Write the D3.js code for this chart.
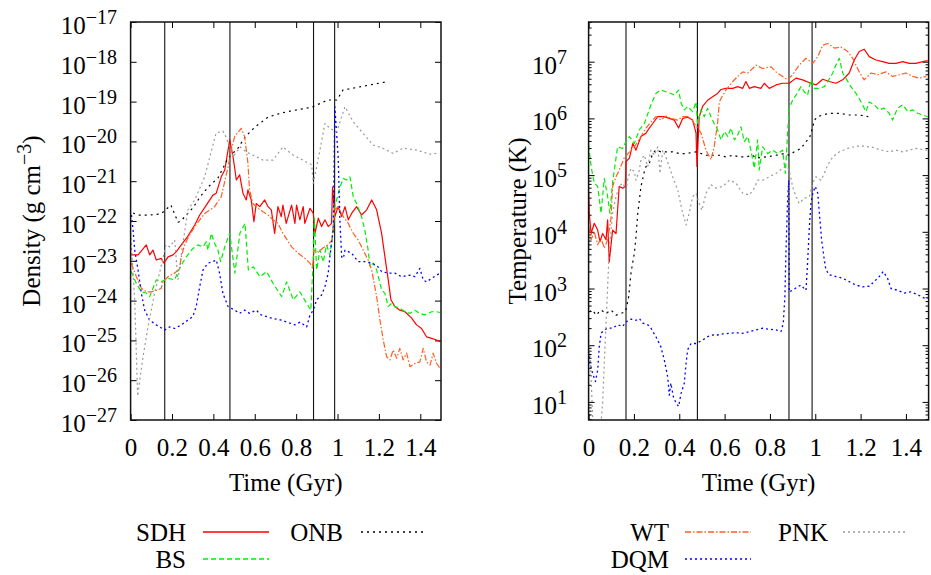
<!DOCTYPE html>
<html>
<head>
<meta charset="utf-8">
<script src="https://cdn.jsdelivr.net/npm/d3@7/dist/d3.min.js"></script>
<style>
  html, body { margin: 0; padding: 0; background: #fff; }
  svg { display: block; }
  text { font-family: "Liberation Serif", "Times New Roman", Times, serif; fill: #000; }
</style>
</head>
<body>
<svg id="chart" width="931" height="575"></svg>
<script>
// ---- Data: time in Gyr, values stored as log10 ----
// Density panel (log10 of g cm^-3)
const sdhRhoTime = [0.003,0.036,0.076,0.092,0.108,0.124,0.148,0.161,0.181,0.205,0.221,0.245,0.277,0.310,0.334,0.366,0.398,0.414,0.438,0.455,0.479,0.495,0.511,0.527,0.543,0.559,0.567,0.583,0.596,0.607,0.624,0.648,0.664,0.680,0.696,0.712,0.728,0.736,0.752,0.778,0.794,0.802,0.818,0.834,0.842,0.867,0.883,0.891,0.907,0.923,0.939,0.955,0.971,0.976,0.987,1.003,1.020,1.036,1.052,1.068,1.092,1.116,1.141,1.165,1.189,1.213,1.229,1.245,1.258,1.277,1.301,1.326,1.358,1.382,1.406,1.430,1.455,1.479,1.495];
const sdhRho = [-22.85,-22.85,-22.60,-22.85,-22.73,-22.98,-22.94,-23.06,-22.90,-22.85,-22.77,-22.60,-22.38,-22.10,-21.85,-21.60,-21.35,-21.30,-20.89,-20.72,-19.96,-20.38,-20.97,-20.84,-21.30,-21.47,-21.22,-21.47,-22.02,-21.56,-21.64,-21.47,-21.64,-21.72,-22.31,-21.64,-21.89,-21.60,-22.06,-21.60,-22.06,-21.60,-21.97,-21.64,-22.06,-21.68,-21.81,-22.31,-21.93,-22.14,-21.97,-22.14,-22.06,-21.14,-21.89,-21.64,-21.89,-21.64,-21.97,-21.81,-21.64,-21.85,-21.72,-21.47,-21.72,-22.31,-22.90,-23.48,-23.98,-24.15,-24.24,-24.28,-24.44,-24.61,-24.70,-24.91,-24.95,-24.99,-25.03];

const bsRhoTime = [0.003,0.028,0.052,0.076,0.092,0.108,0.124,0.148,0.181,0.213,0.229,0.245,0.269,0.301,0.326,0.350,0.366,0.374,0.390,0.406,0.422,0.435,0.455,0.479,0.504,0.528,0.553,0.569,0.593,0.625,0.657,0.689,0.730,0.754,0.786,0.818,0.851,0.871,0.883,0.888,0.899,0.915,0.931,0.947,0.963,0.979,0.987,1.012,1.028,1.044,1.060,1.076,1.092,1.116,1.132,1.148,1.157,1.172,1.189,1.213,1.229,1.245,1.261,1.277,1.301,1.326,1.350,1.374,1.398,1.422,1.455,1.479,1.495];
const bsRho = [-23.27,-23.57,-23.78,-23.81,-23.90,-23.69,-23.48,-23.53,-23.44,-23.48,-23.27,-23.11,-22.90,-22.69,-22.60,-22.65,-22.52,-22.73,-22.31,-22.56,-22.73,-23.02,-22.65,-22.31,-23.31,-22.31,-22.06,-23.23,-23.15,-23.40,-23.27,-23.57,-23.90,-23.53,-23.98,-23.78,-24.07,-24.24,-22.90,-21.93,-23.23,-22.73,-23.03,-22.60,-22.85,-22.23,-21.64,-21.14,-20.93,-20.97,-20.89,-21.39,-21.56,-21.89,-22.23,-22.73,-23.15,-23.06,-23.23,-23.73,-23.82,-24.15,-24.07,-24.15,-24.19,-24.28,-24.32,-24.24,-24.32,-24.36,-24.28,-24.28,-24.30];

const onbRhoTime = [0.012,0.036,0.094,0.147,0.195,0.229,0.243,0.301,0.335,0.374,0.422,0.471,0.519,0.553,0.601,0.664,0.727,0.770,0.876,0.953,0.997,1.026,1.229];
const onbRho = [-21.80,-21.85,-21.85,-21.82,-21.60,-22.03,-22.00,-21.67,-21.40,-21.15,-20.92,-20.42,-20.17,-19.89,-19.64,-19.39,-19.29,-19.24,-19.14,-18.96,-18.96,-18.71,-18.51];

const wtRhoTime = [0.003,0.028,0.052,0.076,0.100,0.132,0.148,0.157,0.181,0.213,0.237,0.245,0.261,0.277,0.310,0.358,0.406,0.438,0.471,0.486,0.503,0.535,0.551,0.567,0.575,0.591,0.615,0.640,0.664,0.688,0.712,0.736,0.778,0.810,0.843,0.867,0.879,0.887,0.907,0.929,0.954,0.973,0.987,1.003,1.028,1.052,1.076,1.100,1.124,1.148,1.165,1.189,1.205,1.221,1.237,1.253,1.269,1.286,1.301,1.317,1.334,1.350,1.374,1.398,1.414,1.430,1.447,1.462,1.479,1.495];
const wtRho = [-23.06,-23.40,-23.69,-23.78,-23.78,-23.73,-23.69,-23.53,-23.40,-23.31,-23.19,-22.90,-22.60,-22.43,-22.14,-21.81,-21.64,-21.39,-20.64,-20.22,-19.88,-19.67,-19.88,-20.55,-21.22,-21.56,-21.68,-21.77,-21.85,-21.97,-22.06,-22.31,-22.65,-22.81,-22.94,-23.06,-23.18,-22.73,-22.78,-22.68,-22.60,-22.48,-21.72,-21.64,-21.89,-22.06,-22.31,-22.48,-22.73,-22.98,-23.23,-23.90,-24.49,-24.99,-25.41,-25.49,-25.24,-25.45,-25.20,-25.49,-25.32,-25.66,-25.58,-25.54,-25.20,-25.54,-25.62,-25.32,-25.58,-25.70];

const dqmRhoTime = [0.004,0.012,0.020,0.036,0.052,0.068,0.092,0.124,0.165,0.189,0.213,0.245,0.277,0.301,0.317,0.334,0.350,0.374,0.398,0.414,0.430,0.446,0.471,0.503,0.527,0.551,0.575,0.607,0.631,0.680,0.728,0.794,0.819,0.851,0.867,0.883,0.899,0.923,0.939,0.955,0.963,0.979,0.987,1.003,1.012,1.020,1.028,1.036,1.068,1.100,1.132,1.165,1.189,1.213,1.245,1.277,1.310,1.350,1.374,1.398,1.414,1.430,1.455,1.479,1.495];
const dqmRho = [-21.85,-22.23,-22.73,-23.23,-23.82,-24.24,-24.49,-24.61,-24.74,-24.66,-24.70,-24.61,-24.49,-24.40,-24.15,-23.65,-23.23,-23.06,-23.02,-22.98,-23.31,-23.82,-24.15,-24.24,-24.32,-24.24,-24.32,-24.24,-24.36,-24.44,-24.49,-24.61,-24.54,-24.66,-24.36,-24.24,-23.98,-23.86,-23.65,-23.31,-22.90,-22.23,-19.13,-20.38,-22.06,-22.90,-22.94,-22.73,-22.81,-23.02,-23.02,-23.06,-23.11,-23.27,-23.31,-23.31,-23.40,-23.36,-23.40,-23.19,-23.48,-23.53,-23.44,-23.36,-23.31];

const pnkRhoTime = [0.000,0.020,0.034,0.060,0.084,0.116,0.147,0.171,0.189,0.213,0.229,0.248,0.277,0.310,0.358,0.388,0.413,0.446,0.461,0.495,0.529,0.561,0.640,0.688,0.736,0.785,0.875,0.883,0.915,0.939,0.963,0.996,1.036,1.076,1.124,1.172,1.219,1.268,1.317,1.382,1.447,1.485];
const pnkRho = [-22.30,-24.00,-26.40,-25.41,-24.66,-23.81,-23.15,-22.60,-22.65,-22.48,-23.48,-22.73,-21.72,-21.47,-20.89,-20.29,-19.79,-19.74,-19.89,-20.39,-20.14,-20.27,-20.47,-20.47,-20.14,-20.34,-20.59,-21.05,-20.22,-19.55,-19.67,-19.76,-19.13,-19.51,-19.80,-20.09,-20.17,-20.30,-20.17,-20.22,-20.32,-20.30];

// Temperature panel (log10 of K)
const sdhTTime = [0.000,0.003,0.011,0.025,0.040,0.050,0.062,0.077,0.084,0.091,0.106,0.121,0.135,0.150,0.162,0.165,0.180,0.195,0.209,0.231,0.253,0.268,0.283,0.305,0.334,0.356,0.378,0.397,0.415,0.437,0.459,0.474,0.478,0.488,0.503,0.525,0.547,0.569,0.584,0.606,0.636,0.658,0.680,0.694,0.709,0.731,0.760,0.775,0.797,0.827,0.856,0.885,0.915,0.944,0.981,1.003,1.033,1.062,1.091,1.121,1.150,1.172,1.194,1.216,1.238,1.268,1.297,1.326,1.356,1.386,1.415,1.444,1.474,1.496];
const sdhT = [4.71,4.33,3.97,4.15,4.03,3.83,3.97,3.86,4.21,3.47,4.03,3.97,4.80,4.77,4.80,5.24,5.30,5.56,5.44,5.68,5.74,5.83,5.91,6.03,6.03,6.00,5.97,5.83,6.00,6.02,5.97,5.74,5.15,6.03,6.21,6.32,6.38,6.44,6.51,6.53,6.53,6.56,6.53,6.65,6.53,6.56,6.53,6.62,6.53,6.59,6.62,6.62,6.71,6.68,6.62,6.59,6.69,6.65,6.62,6.68,6.80,7.03,7.18,7.22,7.09,7.03,7.00,6.97,6.97,7.00,6.97,6.97,7.00,7.02];

const bsTTime = [0.000,0.011,0.025,0.040,0.055,0.069,0.084,0.094,0.106,0.128,0.150,0.165,0.180,0.202,0.224,0.246,0.275,0.297,0.319,0.341,0.363,0.378,0.397,0.408,0.422,0.437,0.459,0.474,0.481,0.496,0.510,0.525,0.540,0.554,0.569,0.584,0.599,0.614,0.628,0.643,0.658,0.672,0.687,0.702,0.716,0.731,0.746,0.753,0.768,0.790,0.812,0.834,0.856,0.868,0.878,0.885,0.900,0.915,0.937,0.951,0.966,0.981,0.996,1.018,1.040,1.055,1.077,1.091,1.106,1.121,1.135,1.157,1.180,1.202,1.224,1.238,1.260,1.282,1.304,1.326,1.341,1.363,1.386,1.408,1.430,1.452,1.474,1.496];
const bsT = [5.53,5.15,4.86,4.80,4.33,4.94,4.62,4.33,4.88,5.50,5.47,5.59,5.68,5.56,5.80,5.91,6.24,6.44,6.50,6.47,6.44,6.41,6.50,6.27,6.15,6.21,6.12,6.29,5.91,6.15,6.03,6.18,6.03,5.91,5.80,5.62,5.77,5.68,5.83,5.62,5.71,5.85,5.59,5.68,5.44,5.12,5.62,5.09,5.50,5.38,5.44,5.38,5.44,5.03,5.74,6.18,6.32,6.41,6.56,6.47,6.41,6.68,6.53,6.53,6.56,6.65,6.80,6.94,7.06,6.80,6.71,6.56,6.44,6.29,6.12,6.29,6.24,6.15,6.18,6.09,5.97,6.18,6.24,6.12,6.15,6.09,6.06,6.03];

const onbTTime = [0.003,0.018,0.033,0.055,0.077,0.099,0.121,0.143,0.162,0.168,0.177,0.187,0.195,0.202,0.209,0.217,0.224,0.231,0.246,0.253,0.268,0.283,0.297,0.319,0.341,0.371,0.400,0.430,0.474,0.518,0.547,0.577,0.606,0.636,0.665,0.694,0.724,0.738,0.783,0.827,0.863,0.885,0.907,0.937,0.959,0.974,0.989,0.996,1.011,1.033,1.062,1.106,1.150,1.194,1.234];
const onbT = [2.59,2.62,2.53,2.62,2.56,2.62,2.53,2.56,2.59,2.68,2.86,3.27,3.47,3.62,3.91,4.33,4.56,4.80,5.06,5.15,5.21,5.38,5.44,5.41,5.41,5.41,5.38,5.38,5.41,5.35,5.35,5.35,5.32,5.35,5.32,5.32,5.35,5.30,5.32,5.35,5.38,5.35,5.41,5.47,5.59,5.65,5.85,5.97,6.03,6.06,6.09,6.09,6.06,6.06,6.03];

const wtTTime = [0.000,0.011,0.025,0.040,0.055,0.069,0.084,0.099,0.106,0.121,0.135,0.157,0.180,0.202,0.231,0.253,0.275,0.297,0.319,0.341,0.363,0.393,0.415,0.444,0.466,0.481,0.496,0.518,0.540,0.554,0.569,0.577,0.584,0.606,0.636,0.658,0.680,0.702,0.724,0.738,0.768,0.805,0.827,0.856,0.878,0.900,0.929,0.959,0.989,1.011,1.033,1.055,1.084,1.113,1.143,1.165,1.194,1.216,1.246,1.275,1.312,1.341,1.371,1.400,1.430,1.459,1.488];
const wtT = [4.09,3.86,4.00,3.77,3.89,3.71,3.86,4.24,4.80,4.97,5.09,5.30,5.41,5.50,5.68,5.83,5.94,6.03,5.97,6.04,6.00,5.97,6.03,6.03,5.91,5.83,5.74,5.44,5.27,5.50,5.91,6.29,6.35,6.50,6.65,6.74,6.82,6.80,6.88,6.94,6.88,6.91,6.82,6.74,6.68,6.77,6.94,7.06,6.97,7.09,7.29,7.32,7.24,7.26,7.18,7.06,6.82,6.68,6.80,6.77,6.82,6.74,6.77,6.80,6.74,6.71,6.74];

const dqmTTime = [0.000,0.006,0.018,0.030,0.040,0.047,0.055,0.069,0.084,0.106,0.128,0.150,0.165,0.187,0.209,0.224,0.239,0.261,0.275,0.297,0.319,0.334,0.349,0.356,0.363,0.374,0.386,0.397,0.408,0.422,0.430,0.437,0.452,0.474,0.503,0.525,0.547,0.569,0.592,0.621,0.650,0.680,0.709,0.738,0.768,0.797,0.827,0.849,0.859,0.866,0.871,0.878,0.883,0.885,0.900,0.922,0.937,0.951,0.959,0.966,0.974,0.981,0.989,1.000,1.011,1.018,1.028,1.040,1.047,1.062,1.091,1.121,1.150,1.180,1.209,1.238,1.260,1.282,1.300,1.319,1.334,1.363,1.393,1.422,1.452,1.481,1.500];
const dqmT = [1.89,1.68,1.50,1.36,1.56,1.97,2.21,2.27,2.30,2.30,2.36,2.33,2.41,2.46,2.44,2.47,2.39,2.36,2.30,2.15,1.97,1.74,1.44,1.12,1.33,1.09,0.98,0.92,1.15,1.33,1.68,1.92,2.03,2.03,2.09,2.15,2.18,2.18,2.20,2.21,2.22,2.21,2.24,2.27,2.30,2.28,2.27,2.24,2.39,2.86,3.68,4.56,4.91,2.94,2.97,3.03,3.06,3.00,2.97,3.44,4.09,4.50,4.68,4.80,4.68,4.33,3.86,3.50,3.33,3.24,3.21,3.18,3.12,3.06,3.03,3.04,3.12,3.21,3.30,3.18,3.00,2.97,2.92,2.94,2.89,2.83,2.83];

const pnkTTime = [0.000,0.008,0.021,0.050,0.062,0.069,0.077,0.084,0.091,0.099,0.106,0.121,0.135,0.150,0.165,0.172,0.187,0.202,0.209,0.224,0.231,0.246,0.261,0.275,0.290,0.305,0.315,0.327,0.341,0.356,0.371,0.393,0.415,0.430,0.444,0.459,0.474,0.488,0.500,0.518,0.540,0.562,0.592,0.621,0.650,0.680,0.709,0.731,0.746,0.768,0.797,0.827,0.856,0.871,0.885,0.900,0.915,0.929,0.951,0.974,0.989,1.003,1.025,1.040,1.055,1.077,1.106,1.143,1.180,1.216,1.253,1.290,1.326,1.356,1.386,1.415,1.444,1.474,1.496];
const pnkT = [2.09,1.74,0.40,0.40,0.98,1.68,2.39,3.03,3.68,4.03,4.33,4.62,4.80,4.86,4.74,4.91,5.12,5.06,4.91,5.09,5.27,5.35,5.15,5.44,5.35,5.50,5.03,5.44,5.32,5.15,4.97,4.74,4.33,4.12,4.33,4.62,4.68,4.50,4.38,4.68,4.83,4.77,4.80,4.91,4.86,4.68,4.65,4.77,4.91,4.91,4.97,5.03,5.12,5.15,5.09,4.80,4.62,4.50,4.59,4.62,4.86,4.97,4.91,5.03,5.18,5.32,5.41,5.47,5.51,5.51,5.49,5.44,5.41,5.44,5.41,5.44,5.47,5.45,5.44];

// Epoch markers (Gyr)
const epochs = [0.165, 0.48, 0.884, 0.986];
const xTicks = [0, 0.2, 0.4, 0.6, 0.8, 1.0, 1.2, 1.4];
const rhoExponents = [-27, -26, -25, -24, -23, -22, -21, -20, -19, -18, -17];
const tempExponents = [1, 2, 3, 4, 5, 6, 7];

// ---- Styles ----
const styles = {
  SDH: { color: "#ff0000", dash: null,          width: 1.2 },
  BS:  { color: "#00ee00", dash: "5,3",         width: 1.2 },
  ONB: { color: "#000000", dash: "2,4",         width: 1.2 },
  WT:  { color: "#ff5f1f", dash: "6,2,1.5,2",   width: 1.2 },
  DQM: { color: "#0000ff", dash: "2,3",         width: 1.3 },
  PNK: { color: "#999999", dash: "2,3",         width: 1.2 }
};

const densitySeries = [
  { name: "SDH", t: sdhRhoTime, v: sdhRho },
  { name: "BS",  t: bsRhoTime,  v: bsRho },
  { name: "ONB", t: onbRhoTime, v: onbRho },
  { name: "WT",  t: wtRhoTime,  v: wtRho },
  { name: "DQM", t: dqmRhoTime, v: dqmRho },
  { name: "PNK", t: pnkRhoTime, v: pnkRho }
];
const tempSeries = [
  { name: "SDH", t: sdhTTime, v: sdhT },
  { name: "BS",  t: bsTTime,  v: bsT },
  { name: "ONB", t: onbTTime, v: onbT },
  { name: "WT",  t: wtTTime,  v: wtT },
  { name: "DQM", t: dqmTTime, v: dqmT },
  { name: "PNK", t: pnkTTime, v: pnkT }
];

const svg = d3.select("#chart");
const FONT = 25, SUP = 20;

function fmtX(d) { return String(+d.toFixed(1)); }

function drawPanel(cfg) {
  const x = d3.scaleLinear().domain([0, 1.5]).range([cfg.left, cfg.right]);
  const y = d3.scaleLog().domain(cfg.yDomain).range([cfg.bottom, cfg.top]);
  const g = svg.append("g");
  const clipId = "clip-" + cfg.id;
  svg.append("clipPath").attr("id", clipId).append("rect")
    .attr("x", cfg.left).attr("y", cfg.top)
    .attr("width", cfg.right - cfg.left).attr("height", cfg.bottom - cfg.top);

  // x axes (inward ticks, labels only at bottom)
  const xb = g.append("g").attr("transform", `translate(0,${cfg.bottom})`)
    .call(d3.axisBottom(x).tickValues(xTicks).tickSizeInner(-6).tickSizeOuter(0).tickPadding(18).tickFormat(fmtX));
  g.append("g").attr("transform", `translate(0,${cfg.top})`)
    .call(d3.axisTop(x).tickValues(xTicks).tickSizeInner(-6).tickSizeOuter(0).tickFormat(""));
  // y axes
  const majors = cfg.exps.map(e => Math.pow(10, e));
  g.append("g").attr("transform", `translate(${cfg.left},0)`)
    .call(d3.axisLeft(y).tickValues(majors).tickSizeInner(-6).tickSizeOuter(0).tickFormat(""));
  g.append("g").attr("transform", `translate(${cfg.right},0)`)
    .call(d3.axisRight(y).tickValues(majors).tickSizeInner(-6).tickSizeOuter(0).tickFormat(""));
  if (cfg.minor) {
    const minors = [];
    const [lo, hi] = cfg.yDomain;
    for (let e = Math.floor(Math.log10(lo)); e <= Math.ceil(Math.log10(hi)); e++) {
      for (let m = 2; m <= 9; m++) {
        const v = m * Math.pow(10, e);
        if (v > lo && v < hi) minors.push(v);
      }
    }
    g.append("g").attr("transform", `translate(${cfg.left},0)`)
      .call(d3.axisLeft(y).tickValues(minors).tickSizeInner(-3).tickSizeOuter(0).tickFormat(""));
    g.append("g").attr("transform", `translate(${cfg.right},0)`)
      .call(d3.axisRight(y).tickValues(minors).tickSizeInner(-3).tickSizeOuter(0).tickFormat(""));
  }
  g.selectAll(".domain").remove();
  g.selectAll(".tick line").attr("stroke", "#000").attr("stroke-width", 1);
  xb.selectAll("text").attr("font-size", FONT).attr("font-family", "Liberation Serif, serif").attr("fill", "#000");

  // y tick labels with superscript exponents
  cfg.exps.forEach(e => {
    const ty = y(Math.pow(10, e));
    const t = g.append("text").attr("x", cfg.labelX).attr("y", ty + 12)
      .attr("text-anchor", "end").attr("font-size", FONT);
    t.append("tspan").text("10");
    t.append("tspan").attr("dy", -10).attr("font-size", SUP)
      .text(e < 0 ? "\u2212" + (-e) : String(e));
  });

  // epoch markers
  g.selectAll("line.epoch").data(epochs).enter().append("line")
    .attr("class", "epoch")
    .attr("x1", d => x(d)).attr("x2", d => x(d))
    .attr("y1", cfg.top).attr("y2", cfg.bottom)
    .attr("stroke", "#111").attr("stroke-width", 1.1);

  // data lines
  const line = d3.line().x(d => x(d[0])).y(d => y(Math.pow(10, d[1])));
  const lines = g.append("g").attr("clip-path", `url(#${clipId})`);
  cfg.series.forEach(s => {
    const st = styles[s.name];
    const pts = s.t.map((tt, i) => [tt, s.v[i]]);
    lines.append("path").datum(pts).attr("d", line)
      .attr("fill", "none").attr("stroke", st.color)
      .attr("stroke-width", st.width)
      .attr("stroke-dasharray", st.dash)
      .attr("stroke-linejoin", "round");
  });

  // frame
  g.append("rect").attr("x", cfg.left).attr("y", cfg.top)
    .attr("width", cfg.right - cfg.left).attr("height", cfg.bottom - cfg.top)
    .attr("fill", "none").attr("stroke", "#111").attr("stroke-width", 1.5);

  // axis titles
  g.append("text").attr("x", (cfg.left + cfg.right) / 2).attr("y", 491)
    .attr("text-anchor", "middle").attr("font-size", FONT).text("Time (Gyr)");
  const yt = g.append("text")
    .attr("transform", `translate(${cfg.titleX},${(cfg.top + cfg.bottom) / 2}) rotate(-90)`)
    .attr("text-anchor", "middle").attr("font-size", FONT);
  cfg.yTitle(yt);
}

drawPanel({
  id: "rho", left: 130.6, right: 441, top: 22, bottom: 420,
  yDomain: [1e-27, 1e-17], exps: rhoExponents, minor: false,
  labelX: 117, titleX: 40, series: densitySeries,
  yTitle: t => {
    t.append("tspan").text("Density (g cm");
    t.append("tspan").attr("dy", -9).attr("font-size", SUP).text("\u22123");
    t.append("tspan").attr("dy", 9).text(")");
  }
});

drawPanel({
  id: "temp", left: 588.6, right: 928.6, top: 22, bottom: 420,
  yDomain: [Math.pow(10, 0.681), Math.pow(10, 7.70)], exps: tempExponents, minor: true,
  labelX: 567, titleX: 526, series: tempSeries,
  yTitle: t => { t.text("Temperature (K)"); }
});

// ---- Legends ----
const legendItems = [
  { name: "SDH", textRight: 186, x1: 203, x2: 269, y: 532 },
  { name: "BS",  textRight: 186, x1: 203, x2: 269, y: 559 },
  { name: "ONB", textRight: 343, x1: 361, x2: 427, y: 532 },
  { name: "WT",  textRight: 669, x1: 685, x2: 751, y: 532 },
  { name: "DQM", textRight: 669, x1: 685, x2: 751, y: 559 },
  { name: "PNK", textRight: 828, x1: 843, x2: 908, y: 532 }
];
const lg = svg.append("g");
legendItems.forEach(d => {
  const st = styles[d.name];
  lg.append("text").attr("x", d.textRight).attr("y", d.y).attr("dy", "0.35em")
    .attr("text-anchor", "end").attr("font-size", FONT).text(d.name);
  lg.append("line").attr("x1", d.x1).attr("x2", d.x2).attr("y1", d.y).attr("y2", d.y)
    .attr("stroke", st.color).attr("stroke-width", st.width + 0.3)
    .attr("stroke-dasharray", st.dash);
});
</script>
</body>
</html>
